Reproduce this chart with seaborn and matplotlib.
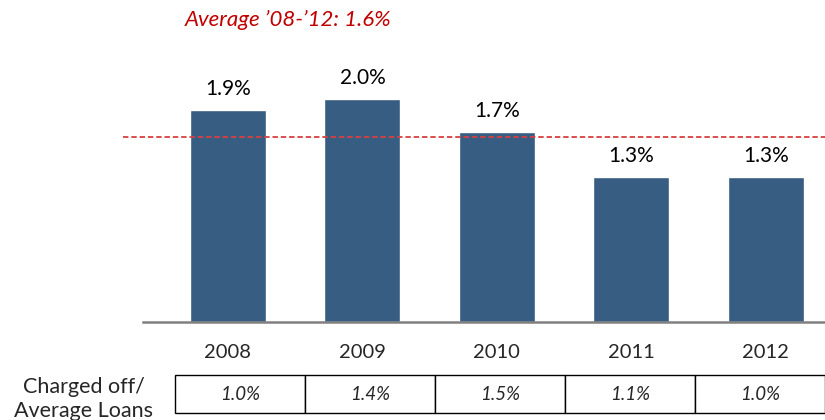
import matplotlib
matplotlib.use("Agg")
import matplotlib.pyplot as plt
import numpy as np
import pandas as pd
import seaborn as sns

### Data ###
years = ['2008', '2009', '2010', '2011', '2012']
rates = [1.9, 2.0, 1.7, 1.3, 1.3]
rate_labels = ['1.9%', '2.0%', '1.7%', '1.3%', '1.3%']
avg_rate = 1.66
title_text = 'Average \u201908-\u201912: 1.6%'
chargeoff_labels = ['1.0%', '1.4%', '1.5%', '1.1%', '1.0%']
row_label = 'Charged off/\nAverage Loans'

bar_color = '#385D82'
red = '#C00000'

sns.set_style('white')
plt.rcParams['font.family'] = ['Lato', 'DejaVu Sans']

df = pd.DataFrame({'year': years, 'rate': rates})

fig = plt.figure(figsize=(8.25, 4.2), dpi=100)
# axes box: x 143..825 px, y 0..322 px (from top)
ax = fig.add_axes([143 / 825, 1 - 322 / 420, 682 / 825, 322 / 420])

sns.barplot(data=df, x='year', y='rate', color=bar_color, width=0.565,
            saturation=1, ax=ax)

ax.bar_label(ax.containers[0], labels=rate_labels, padding=8, fontsize=15,
             color='black')

ax.set_xlim(-0.632, 4.44)
ax.set_ylim(0, 2.888)

# average line, runs a bit past the left of the axis
ax.hlines(avg_rate, -0.78, 4.44, colors='#D94040', linestyles=(0, (3, 1.6)),
          linewidth=1.3, clip_on=False)

for s in ['top', 'right', 'left']:
    ax.spines[s].set_visible(False)
ax.spines['bottom'].set_color('#808080')
ax.spines['bottom'].set_linewidth(1.8)
ax.set_yticks([])
ax.set_xlabel('')
ax.set_ylabel('')
ax.tick_params(axis='x', length=0, pad=16, labelsize=14.5)

# table of charge-off ratios
tbl = ax.table(cellText=[chargeoff_labels], cellLoc='center',
               bbox=[32 / 682, -91 / 322, 650 / 682, 38 / 322])
tbl.auto_set_font_size(False)
for (r, c), cell in tbl.get_celld().items():
    cell.set_edgecolor('black')
    cell.set_linewidth(1.0)
    cell.get_text().set_fontsize(13.5)
    cell.get_text().set_fontstyle('italic')

fig.text(84 / 825, 1 - 399 / 420, row_label, ha='center', va='center',
         fontsize=15.5, linespacing=1.25)

fig.text(185 / 825, 1 - 20 / 420, title_text, ha='left', va='center',
         fontsize=16, fontstyle='italic', color=red)

fig.savefig('out.png', dpi=100)
